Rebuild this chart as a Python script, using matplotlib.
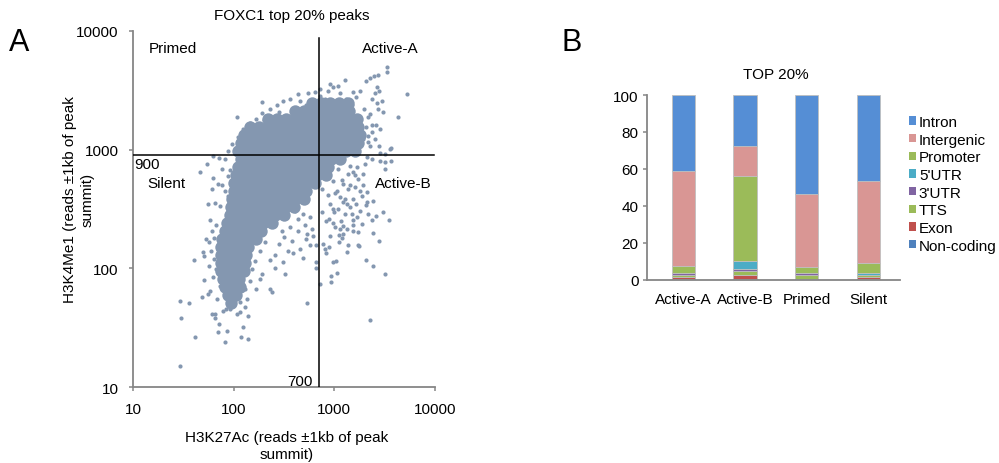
import matplotlib.pyplot as plt
import numpy as np
from matplotlib.patches import Patch
from matplotlib.ticker import FixedLocator, NullLocator

plt.rcParams['font.family'] = ['Liberation Sans', 'DejaVu Sans']

# ---- panel A: H3K27Ac vs H3K4Me1 reads (+-1kb of FOXC1 peak summit) ----
# dense centre of the cloud, one row per H3K4Me1 level
core_row_y = [2468, 2112, 1809, 1549, 1327, 1136, 973, 833, 714, 611, 524, 448,
              384, 329, 282, 241, 207, 177, 152, 130, 111, 95, 82, 70, 60, 51]
core_row_x = [
    [601, 738, 906, 1113, 1367],
    [407, 500, 615, 755, 927, 1139, 1399],
    [220, 270, 332, 407, 500, 615, 755, 927, 1139, 1399, 1679],
    [146, 179, 220, 270, 332, 407, 500, 615, 755, 927, 1139, 1399, 1717],
    [127, 156, 192, 236, 289, 355, 436, 536, 658, 808, 993, 1220, 1498, 1799],
    [119, 146, 179, 220, 270, 332, 407, 500, 615, 755, 927, 1139, 1399, 1717],
    [111, 136, 167, 205, 252, 310, 381, 467, 574, 705, 865, 1063, 1306, 1604],
    [119, 146, 179, 220, 270, 332, 407, 500, 615, 755, 927, 1139],
    [111, 136, 167, 205, 252, 310, 381, 467, 574, 705, 865],
    [106, 130, 160, 196, 241, 296, 364, 446, 548, 673, 827],
    [101, 124, 153, 187, 230, 283, 347, 426, 524, 643],
    [101, 124, 153, 187, 230, 283, 347, 426, 524],
    [97, 119, 146, 179, 220, 270, 332, 407, 500],
    [94, 116, 142, 175, 215, 264, 324, 398],
    [92, 113, 139, 171, 210, 258, 317],
    [86, 106, 130, 160, 196, 241],
    [82, 101, 124, 153, 187],
    [77, 94, 116, 142, 167],
    [75, 92, 113, 139],
    [75, 90, 108, 133],
    [75, 90, 108, 130],
    [75, 90, 108, 127],
    [79, 94, 113],
    [82, 99, 116],
    [88, 106],
    [94],
]

# single peaks around the edge of the cloud
sparse_pts = [
    (3330, 4950), (3330, 4500), (2710, 4240), (2480, 4160), (2260, 4000), (5260, 2940),
    (4280, 1880), (1280, 3850), (2060, 3780), (2650, 3360), (2780, 3110), (2530, 3000),
    (970, 3360), (1090, 3430), (865, 3110), (643, 3050), (548, 3000), (436, 2940),
    (1530, 3050), (1800, 3110), (2970, 2560), (2650, 2470), (2260, 1990), (3040, 2070),
    (2370, 1610), (2590, 1610), (2160, 1300), (2160, 1160), (2260, 1070), (2780, 1070),
    (3570, 1010), (2110, 867), (2370, 833), (2840, 801), (2020, 756), (3180, 687),
    (1930, 624), (1430, 727), (1680, 714), (1370, 624), (1530, 649), (1220, 514),
    (1600, 485), (2110, 440), (1880, 407), (1060, 448), (1530, 384), (1220, 362),
    (2110, 362), (906, 349), (2420, 369), (2060, 342), (3040, 299), (2590, 277),
    (2370, 256), (3490, 256), (2160, 288), (1530, 256), (1800, 305), (1530, 232),
    (1530, 207), (1720, 203), (2420, 199), (2780, 170), (1720, 158), (1370, 158),
    (1340, 138), (1110, 167), (1190, 181), (970, 113), (1040, 115), (2060, 118),
    (2420, 105), (3180, 90), (1060, 91), (927, 86), (927, 77), (658, 113),
    (658, 101), (721, 74), (489, 123), (540, 51), (2260, 37), (808, 146),
    (827, 135), (886, 152), (772, 161), (574, 158), (658, 158), (524, 177),
    (615, 188), (906, 188), (1110, 191), (1220, 195), (1020, 224), (1220, 228),
    (886, 261), (970, 242), (1760, 155),
    (1090, 317), (1280, 288), (1430, 329), (993, 296), (1170, 251), (1340, 215),
    (1680, 271), (1880, 237), (1140, 399), (1370, 466), (970, 545), (1720, 566),
    (755, 296),
    (755, 466), (865, 416), (1280, 384), (1640, 349), (970, 317), (1430, 505),
    (1800, 448), (1190, 560), (1600, 611), (1090, 687), (1930, 505), (827, 252),
    (1340, 349), (1010, 430), (1500, 288), (1140, 215),
    (436, 261), (512, 232), (601, 215), (407, 305), (489, 288), (574, 271),
    (364, 224), (317, 184), (283, 161), (381, 170), (457, 146), (347, 141),
    (258, 130), (230, 118), (303, 207),
    (108, 1880), (210, 1920), (201, 1775), (283, 2070), (381, 2150), (426, 2070),
    (324, 1775), (192, 2520), (139, 1550), (153, 1430), (171, 1410), (136, 1350),
    (121, 1230), (130, 1160), (108, 1030), (63, 883), (72, 850), (92, 674),
    (103, 687), (88, 600), (63, 577), (70, 514), (77, 504), (61, 466),
    (82, 448), (88, 407), (56, 349), (66, 356), (73, 335), (58, 256),
    (53, 177), (57, 167), (64, 181), (40, 118), (50, 138), (51, 127),
    (59, 140), (57, 105), (51, 80), (63, 85), (58, 65), (56, 61),
    (49, 58), (29, 53), (36, 51), (30, 38), (61, 41), (66, 41),
    (66, 38), (72, 34), (79, 44), (92, 46), (108, 41), (116, 43),
    (139, 40), (86, 30), (70, 29), (124, 32), (41, 26.5), (82, 24),
    (119, 26.5), (139, 25.5), (29, 15), (230, 67), (241, 63.5), (389, 135),
    (324, 90), (258, 101), (192, 90), (183, 81.6), (167, 67), (136, 55),
    (310, 113), (436, 207), (536, 195),
    (67, 232), (61, 207), (70, 146), (64, 120), (67, 99), (73, 71),
    (69, 55), (130, 67), (146, 78.5), (153, 99), (163, 115), (183, 140),
    (205, 167), (116, 52), (99, 50), (84, 46), (130, 47.5),
    (55, 756), (46.6, 649), (82, 833), (77, 687),
    (88, 973), (97, 1115), (111, 1277), (124, 1490), (146, 1676), (167, 1809),
    (192, 2033), (230, 2195), (270, 2373), (310, 2564), (364, 2665), (457, 2564),
    (524, 2373), (721, 2823), (808, 2665), (1139, 2995), (1306, 2665), (1641, 2772),
    (1016, 2373), (1498, 2373),
    (1972, 2195), (2159, 1881), (2063, 1549), (2366, 1407), (1927, 1228), (2533, 1228),
    (2712, 2195), (2366, 2665), (2840, 1490), (3184, 919), (3651, 801), (3650, 1032),
    (3184, 786), (2840, 937), (721, 3234), (906, 3564),
]

k27_cut = 700
k4_cut = 900

# ---- panel B: genomic annotation of top 20% peaks (%) ----
groups = ['Active-A', 'Active-B', 'Primed', 'Silent']
noncoding = [0.2, 0.2, 0.2, 0.2]
exon = [1.4, 2.3, 0.3, 1.4]
tts = [1.1, 2.4, 2.2, 0.9]
utr3 = [0.9, 0.9, 0.9, 0.2]
utr5 = [0.2, 4.1, 0.1, 1.0]
promoter = [3.8, 46.1, 3.0, 5.1]
intergenic = [51.1, 16.6, 39.7, 44.8]
intron = [41.3, 27.4, 53.6, 46.4]

stack_names = ['Non-coding', 'Exon', 'TTS', "3'UTR", "5'UTR", 'Promoter', 'Intergenic', 'Intron']
stack_vals = [noncoding, exon, tts, utr3, utr5, promoter, intergenic, intron]
stack_cols = ['#4F81BD', '#C0504D', '#9BBB59', '#8064A2', '#4BACC6', '#9BBB59', '#D99694', '#558ED5']

axis_grey = '#868686'
dot_col = '#8497B0'
fs = 11

fig = plt.figure(figsize=(9.99, 4.64), dpi=100)

# scatter
ax = fig.add_axes([0.1331, 0.1631, 0.3023, 0.7685])
cx = [x for row in core_row_x for x in row]
cy = [y for row, y in zip(core_row_x, core_row_y) for _ in row]
ax.scatter(cx, cy, s=80, color=dot_col, linewidths=0, zorder=2)
sx = [p[0] for p in sparse_pts]
sy = [p[1] for p in sparse_pts]
ax.scatter(sx, sy, s=9, color=dot_col, linewidths=0, zorder=2)

ax.set_xscale('log')
ax.set_yscale('log')
ax.set_xlim(10, 10000)
ax.set_ylim(10, 10000)
ax.plot([k27_cut, k27_cut], [10, 8700], color='black', lw=1.1, zorder=3)
ax.plot([10, 9700], [k4_cut, k4_cut], color='black', lw=1.1, zorder=3)

ticks = [10, 100, 1000, 10000]
for axis in (ax.xaxis, ax.yaxis):
    axis.set_major_locator(FixedLocator(ticks))
    axis.set_minor_locator(NullLocator())
ax.set_xticklabels([str(t) for t in ticks])
ax.set_yticklabels([str(t) for t in ticks])
ax.tick_params(direction='out', length=3, width=1.1, color=axis_grey, labelsize=fs, pad=7.5)
for side in ('top', 'right'):
    ax.spines[side].set_visible(False)
for side in ('left', 'bottom'):
    ax.spines[side].set_color(axis_grey)
    ax.spines[side].set_linewidth(1.3)

# y label in two separate lines, as in the original figure
ax.text(-0.2086, 0.528, 'H3K4Me1 (reads \u00b11kb of peak', transform=ax.transAxes,
        rotation=90, ha='center', va='center', fontsize=fs)
ax.text(-0.149, 0.528, 'summit)', transform=ax.transAxes,
        rotation=90, ha='center', va='center', fontsize=fs)
ax.set_xlabel('H3K27Ac (reads \u00b11kb of peak\nsummit)', fontsize=fs, linespacing=1.3)
ax.xaxis.set_label_coords(0.51, -0.12)

ax.text(14.2, 7150, 'Primed', fontsize=fs, va='center')
ax.text(1884, 7150, 'Active-A', fontsize=fs, va='center')
ax.text(13.9, 524, 'Silent', fontsize=fs, va='center')
ax.text(2535, 524, 'Active-B', fontsize=fs, va='center')
ax.text(10.3, 757, '900', fontsize=fs, va='center')
ax.text(615, 11.3, '700', fontsize=fs, va='center', ha='right')

fig.text(292 / 999, 1 - 16 / 464, 'FOXC1 top 20% peaks', fontsize=fs, ha='center', va='center')
fig.text(9 / 999, 1 - 43 / 464, 'A', fontsize=22, va='center')

# stacked bars
bx = fig.add_axes([0.6476, 0.3950, 0.2533, 0.3981])
pos = np.arange(len(groups))
bottom = np.zeros(len(groups))
for name, vals, col in zip(stack_names, stack_vals, stack_cols):
    bx.bar(pos, vals, 0.378, bottom=bottom, color=col, edgecolor='#BFBFBF', linewidth=0.6, label=name)
    bottom += np.array(vals)

bx.set_xlim(-0.588, 3.514)
bx.set_ylim(0, 100)
bx.set_yticks([0, 20, 40, 60, 80, 100])
bx.set_xticks(pos)
bx.set_xticklabels(groups)
bx.tick_params(axis='y', direction='out', length=3, width=1.1, color=axis_grey, labelsize=fs, pad=3)
bx.tick_params(axis='x', length=0, labelsize=fs, pad=9)
for side in ('top', 'right'):
    bx.spines[side].set_visible(False)
for side in ('left', 'bottom'):
    bx.spines[side].set_color(axis_grey)
    bx.spines[side].set_linewidth(1.3)

handles = [Patch(facecolor=c, edgecolor='none') for c in stack_cols][::-1]
bx.legend(handles, stack_names[::-1], loc='upper left', bbox_to_anchor=(909 / 999, 1 - 116 / 464),
          bbox_transform=fig.transFigure, frameon=False, fontsize=fs, borderpad=0, borderaxespad=0,
          handlelength=0.45, handleheight=0.45, handletextpad=0.2, labelspacing=0.24)

fig.text(775.6 / 999, 1 - 75 / 464, 'TOP 20%', fontsize=fs, ha='center', va='center')
fig.text(562 / 999, 1 - 43 / 464, 'B', fontsize=22, va='center')

fig.savefig('out.png', dpi=100)
